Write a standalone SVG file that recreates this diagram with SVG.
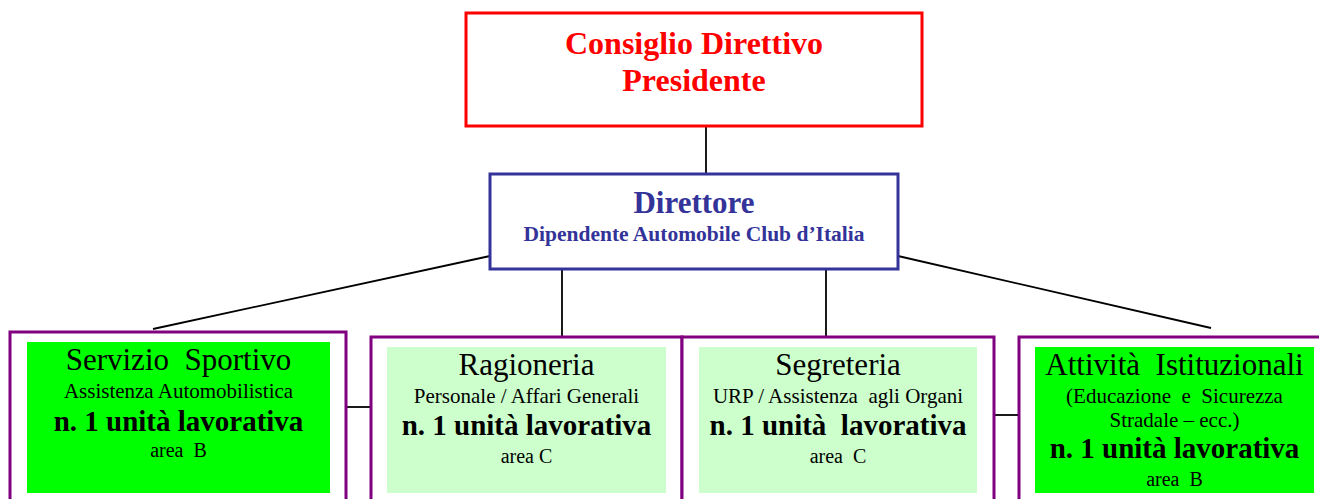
<svg xmlns="http://www.w3.org/2000/svg" width="1319" height="499" viewBox="0 0 1319 499" xml:space="preserve">
<style>
text{font-family:"Liberation Serif","Times New Roman",serif;text-anchor:middle;fill:#000;white-space:pre}
.b{font-weight:bold}
.conn{stroke:#000;stroke-width:1.8;fill:none}
.unit{fill:#fff;stroke:#800080;stroke-width:3}
.t{font-size:31px}
.s{font-size:21px}
.u{font-size:29px;font-weight:bold}
.a{font-size:20px}
</style>
<rect width="1319" height="499" fill="#fff"/>
<g id="connectors">
<line class="conn" x1="706" y1="127" x2="706" y2="173"/>
<line class="conn" x1="490" y1="256" x2="153" y2="329"/>
<line class="conn" x1="898" y1="256" x2="1211" y2="328"/>
<line class="conn" x1="562" y1="269" x2="562" y2="336"/>
<line class="conn" x1="826" y1="269" x2="826" y2="336"/>
<line class="conn" x1="347" y1="407" x2="370" y2="407"/>
<line class="conn" x1="995" y1="415" x2="1018" y2="415"/>
</g>
<g id="consiglio">
<rect x="466" y="13" width="456" height="113" fill="#fff" stroke="#ff0000" stroke-width="3"/>
<text class="b" x="694" y="54" font-size="32" style="fill:#ff0000">Consiglio Direttivo</text>
<text class="b" x="694" y="91" font-size="32" style="fill:#ff0000">Presidente</text>
</g>
<g id="direttore">
<rect x="490" y="174" width="408" height="95" fill="#fff" stroke="#333399" stroke-width="3"/>
<text class="b" x="694" y="213" font-size="31" style="fill:#333399">Direttore</text>
<text class="b" x="694" y="241" font-size="21.5" style="fill:#333399">Dipendente Automobile Club d’Italia</text>
</g>
<g id="servizio">
<rect class="unit" x="10" y="332" width="336" height="200"/>
<rect x="27" y="342" width="303" height="151" fill="#00ff00"/>
<text class="t" x="178.5" y="370">Servizio  Sportivo</text>
<text class="s" x="178.5" y="398">Assistenza Automobilistica</text>
<text class="u" x="178.5" y="431">n. 1 unità lavorativa</text>
<text class="a" x="178.5" y="457">area  B</text>
</g>
<g id="ragioneria">
<rect class="unit" x="371" y="337" width="311" height="200"/>
<rect x="387" y="347" width="279" height="146" fill="#ccffcc"/>
<text class="t" x="526.5" y="375">Ragioneria</text>
<text class="s" x="526.5" y="403">Personale / Affari Generali</text>
<text class="u" x="526.5" y="435">n. 1 unità lavorativa</text>
<text class="a" x="526.5" y="463">area C</text>
</g>
<g id="segreteria">
<rect class="unit" x="682" y="337" width="312" height="200"/>
<rect x="699" y="347" width="278" height="146" fill="#ccffcc"/>
<text class="t" x="838" y="375">Segreteria</text>
<text class="s" x="838" y="403">URP / Assistenza  agli Organi</text>
<text class="u" x="838" y="435">n. 1 unità  lavorativa</text>
<text class="a" x="838" y="463">area  C</text>
</g>
<g id="attivita">
<rect class="unit" x="1019" y="337" width="320" height="200"/>
<rect x="1035" y="347" width="279" height="146" fill="#00ff00"/>
<text class="t" x="1174.5" y="375">Attività  Istituzionali</text>
<text class="s" x="1174.5" y="403">(Educazione  e  Sicurezza</text>
<text class="s" x="1174.5" y="427">Stradale – ecc.)</text>
<text class="u" x="1174.5" y="458">n. 1 unità lavorativa</text>
<text class="a" x="1174.5" y="486">area  B</text>
</g>
</svg>
